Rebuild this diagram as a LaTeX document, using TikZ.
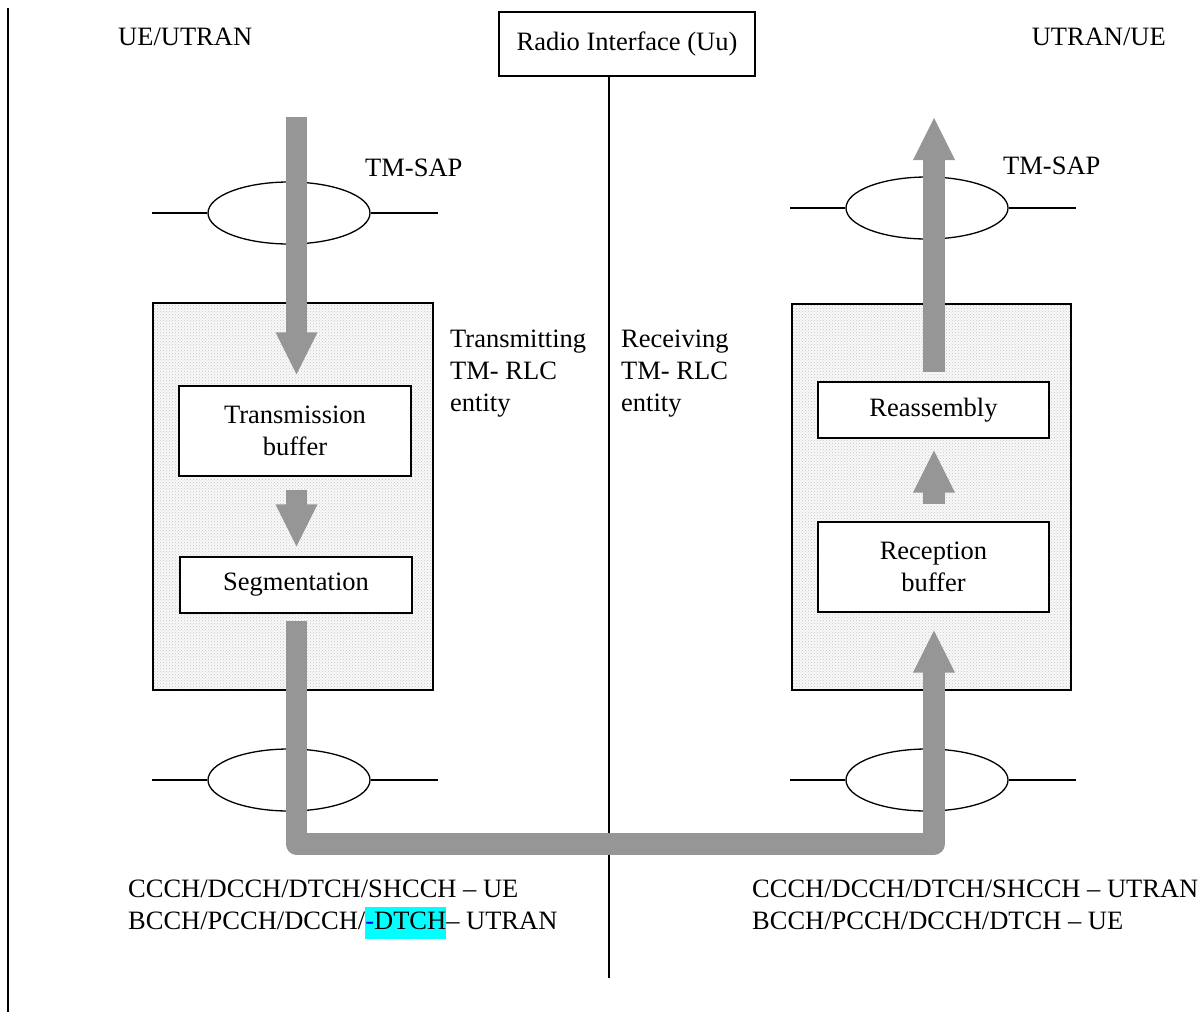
\documentclass[tikz,border=0pt]{standalone}
\usepackage{fontspec}
\setmainfont{Liberation Serif}
\usetikzlibrary{shapes.geometric,patterns,calc}
\definecolor{flowgray}{RGB}{150,150,150}
\definecolor{hlcyan}{RGB}{0,255,255}
\newcommand\hlmark[1]{{\setlength{\fboxsep}{0pt}\colorbox{hlcyan}{\strut #1}}}
\begin{document}
\begin{tikzpicture}[x=1pt,y=-1pt,
  every node/.style={font=\fontsize{26.5}{32}\selectfont, inner sep=0pt},
  thinline/.style={line width=1.3pt},
  entity/.style={draw, line width=1.3pt, pattern=crosshatch dots, pattern color=gray!45,
                 preaction={fill=gray!5}},
  stage/.style={draw, line width=1.3pt, fill=white, align=center},
  sap/.style={draw, ellipse, line width=1.3pt, minimum width=162pt, minimum height=62pt},
  shaft/.style={draw=flowgray, line width=21.5pt},
  flowhead/.style={fill=flowgray}
]
\useasboundingbox (0,0) rectangle (1202,1012);

% left margin rule
\coordinate (ruleTop) at (8,8);
\coordinate (ruleBot) at (8,1012);
\draw[line width=2pt] (ruleTop) -- (ruleBot);

% side labels and air interface
\node[anchor=base west] (sideL) at (118,45) {UE/UTRAN};
\node[anchor=base east] (sideR) at (1166,45) {UTRAN/UE};
\node[draw, thinline, minimum width=256pt, minimum height=64pt] (radio) at (627,44) {Radio Interface (Uu)};
\coordinate (axisTop) at ($(radio.south)+(-18,0)$);
\coordinate (axisBot) at (609,978);
\draw[thinline] (axisTop) -- (axisBot);

% RLC entities
\node[entity, minimum width=280pt, minimum height=387pt] (txent) at (293,496.5) {};
\node[entity, minimum width=279pt, minimum height=386pt] (rxent) at (931.5,497) {};

\node[stage, minimum width=232pt, minimum height=90pt] (txbuf) at (295,431) {Transmission\\buffer};
\node[stage, minimum width=232pt, minimum height=56pt] (seg) at (296,585) {Segmentation};
\node[stage, minimum width=231pt, minimum height=56pt] (reasm) at (933.5,410) {Reassembly};
\node[stage, minimum width=231pt, minimum height=90pt] (rxbuf) at (933.5,567) {Reception\\buffer};

% (base anchor of a multi-line node sits on its last line)
\node[anchor=base west, align=left] (txname) at (450,411) {Transmitting\\TM- RLC\\entity};
\node[anchor=base west, align=left] (rxname) at (621,411) {Receiving\\TM- RLC\\entity};

% service access points
\node[sap] (sapTL) at (289,213) {};
\node[sap] (sapBL) at (289,780) {};
\node[sap] (sapTR) at (927,208) {};
\node[sap] (sapBR) at (927,780) {};
\foreach \s in {sapTL,sapBL,sapTR,sapBR}{
  \draw[thinline] (\s.west) -- ++(-55,0);
  \draw[thinline] (\s.east) -- ++(67,0);
}
\node[anchor=base west] (sapTxtL) at (365,176) {TM-SAP};
\node[anchor=base west] (sapTxtR) at (1003,174) {TM-SAP};

% data flow, transmitting side
\coordinate (txIn) at (296.5,117);
\coordinate (txTip1) at ($(txbuf.north)+(1.5,-11)$);
\draw[shaft] (txIn) -- ($(txTip1)+(0,-40)$);
\fill[flowhead] ($(txTip1)+(-21,-42)$) -- ($(txTip1)+(21,-42)$) -- (txTip1) -- cycle;

\coordinate (txTip2) at ($(seg.north)+(0.5,-10)$);
\draw[shaft] ($(txbuf.south)+(1.5,13)$) -- ($(txTip2)+(0,-40)$);
\fill[flowhead] ($(txTip2)+(-21,-42)$) -- ($(txTip2)+(21,-42)$) -- (txTip2) -- cycle;

% over the air to the receiving side
\coordinate (rxTip1) at ($(rxbuf.south)+(0.5,18)$);
\coordinate (airL) at ($(seg.south)+(0.5,0)$);
\draw[shaft, line join=round] ($(airL)+(0,7)$) -- (airL |- 0,844) -- (rxTip1 |- 0,844) -- ($(rxTip1)+(0,40)$);
\fill[flowhead] ($(rxTip1)+(-21,42)$) -- ($(rxTip1)+(21,42)$) -- (rxTip1) -- cycle;

\coordinate (rxTip2) at ($(reasm.south)+(0.5,12)$);
\draw[shaft] ($(rxbuf.north)+(0.5,-17)$) -- ($(rxTip2)+(0,40)$);
\fill[flowhead] ($(rxTip2)+(-21,42)$) -- ($(rxTip2)+(21,42)$) -- (rxTip2) -- cycle;

\coordinate (rxOut) at ($(reasm.north)+(0.5,-9)$);
\coordinate (rxTip3) at (934,118);
\draw[shaft] (rxOut) -- ($(rxTip3)+(0,40)$);
\fill[flowhead] ($(rxTip3)+(-21,42)$) -- ($(rxTip3)+(21,42)$) -- (rxTip3) -- cycle;

% logical channels
\node[anchor=base west, align=left] (chL) at (128,929)
  {CCCH/DCCH/DTCH/SHCCH – UE\\BCCH/PCCH/DCCH/\hlmark{\textcolor{blue}{-}DTCH}– UTRAN};
\node[anchor=base west, align=left] (chR) at (752,929)
  {CCCH/DCCH/DTCH/SHCCH – UTRAN\\BCCH/PCCH/DCCH/DTCH – UE};
\end{tikzpicture}
\end{document}
